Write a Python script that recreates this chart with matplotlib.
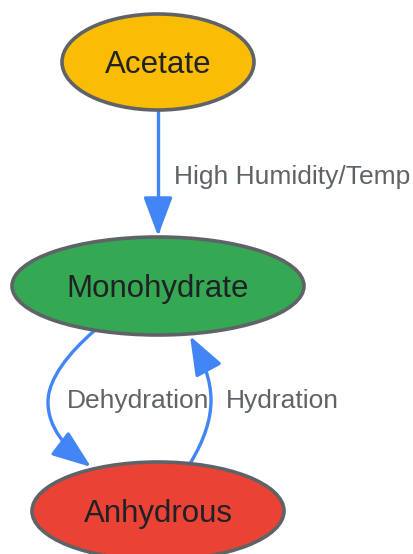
import matplotlib.pyplot as plt
from matplotlib.patches import Ellipse, FancyArrowPatch, ArrowStyle
from matplotlib.path import Path

plt.rcParams['font.family'] = ['Liberation Sans', 'DejaVu Sans']

# graph data
nodes = ["Acetate", "Monohydrate", "Anhydrous"]
edge_from = ["Acetate", "Monohydrate", "Anhydrous"]
edge_to = ["Monohydrate", "Anhydrous", "Monohydrate"]
edge_labels = ["High Humidity/Temp", "Dehydration", "Hydration"]

# layout (pixel space, y down)
node_pos = {"Acetate": (158, 62), "Monohydrate": (158, 286), "Anhydrous": (158, 511)}
node_size = {"Acetate": (192, 96), "Monohydrate": (292, 98), "Anhydrous": (252, 98)}
node_color = {"Acetate": "#FBBC04", "Monohydrate": "#34A853", "Anhydrous": "#EA4335"}

# edge routes: bezier control points
edge_paths = [
    ([(158, 111), (158, 236)], [Path.MOVETO, Path.LINETO]),
    ([(94, 331), (70, 352), (48, 378), (48, 402), (48, 428), (66, 448), (91, 467)],
     [Path.MOVETO] + [Path.CURVE4] * 6),
    ([(191, 462), (204, 440), (211, 420), (211, 400), (211, 380), (203, 360), (190, 336)],
     [Path.MOVETO] + [Path.CURVE4] * 6),
]
label_pos = [(174, 177), (67, 401), (226, 401)]

fig = plt.figure(figsize=(4.14, 5.54), dpi=100)
ax = fig.add_axes([0, 0, 1, 1])
ax.set_xlim(0, 414)
ax.set_ylim(554, 0)
ax.axis('off')

blue = "#4285F4"
for verts, codes in edge_paths:
    arrow = FancyArrowPatch(
        path=Path(verts, codes),
        arrowstyle=ArrowStyle("-|>", head_length=24, head_width=9),
        mutation_scale=1,
        color=blue,
        lw=2.4,
        zorder=1,
    )
    ax.add_patch(arrow)

for lbl, (x, y) in zip(edge_labels, label_pos):
    ax.text(x, y, lbl, fontsize=19, color="#5F6368", ha='left', va='center', zorder=3)

for n in nodes:
    x, y = node_pos[n]
    w, h = node_size[n]
    ax.add_patch(Ellipse((x, y), w, h, facecolor=node_color[n],
                         edgecolor="#5F6368", lw=2.6, zorder=2))
    ax.text(x, y + 3, n, fontsize=22.5, color="#202124", ha='center', va='center', zorder=3)

fig.savefig("out.png", dpi=100)
